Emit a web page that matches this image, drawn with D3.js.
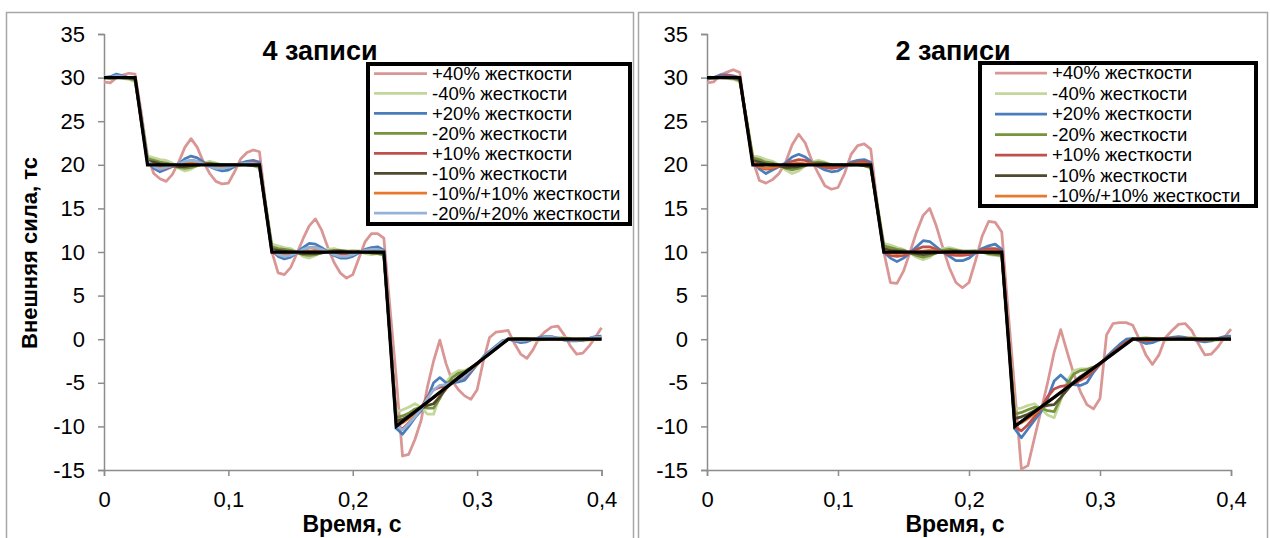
<!DOCTYPE html>
<html>
<head>
<meta charset="utf-8">
<script src="https://cdn.jsdelivr.net/npm/d3@7"></script>
<style>
  body { margin: 0; background: #fff; }
  text { font-family: "Liberation Sans", Arial, sans-serif; }
</style>
</head>
<body>
<div class="canvas"></div>
<script>
// sample times, s
const time = [0, 0.005, 0.01, 0.015, 0.02, 0.025, 0.03, 0.035, 0.04, 0.045,
  0.05, 0.055, 0.06, 0.065, 0.07, 0.075, 0.08, 0.085, 0.09, 0.095,
  0.1, 0.105, 0.11, 0.115, 0.12, 0.125, 0.13, 0.135, 0.14, 0.145,
  0.15, 0.155, 0.16, 0.165, 0.17, 0.175, 0.18, 0.185, 0.19, 0.195,
  0.2, 0.205, 0.21, 0.215, 0.22, 0.225, 0.23, 0.235, 0.24, 0.245,
  0.25, 0.255, 0.26, 0.265, 0.27, 0.275, 0.28, 0.285, 0.29, 0.295,
  0.3, 0.305, 0.31, 0.315, 0.32, 0.325, 0.33, 0.335, 0.34, 0.345,
  0.35, 0.355, 0.36, 0.365, 0.37, 0.375, 0.38, 0.385, 0.39, 0.395,
  0.4];

// target force (black line)
const refTime = [0, 0.025, 0.035, 0.125, 0.135, 0.225, 0.235, 0.325, 0.4];
const refForce = [30, 30, 20, 20, 10, 10, -10, 0, 0];

const seriesNames = ['+40% жесткости', '-40% жесткости', '+20% жесткости', '-20% жесткости',
  '+10% жесткости', '-10% жесткости', '-10%/+10% жесткости', '-20%/+20% жесткости'];
const seriesColors = ['#d99694', '#c3d69b', '#4a7ebb', '#77933c', '#c0504d', '#4f4a2e', '#e8782e', '#95b3d7'];

const yTicks = [-15, -10, -5, 0, 5, 10, 15, 20, 25, 30, 35];
const xTicks = [0, 0.1, 0.2, 0.3, 0.4];
const xTickLabels = ['0', '0,1', '0,2', '0,3', '0,4'];
const panelTitles = ['4 записи', '2 записи'];

// ---- 4 записи ----
const left_p40 = [29.5, 29.4, 30.0, 30.3, 30.5, 30.4, 26.0, 21.0, 19.0, 18.4,
  18.1, 18.9, 20.3, 22.0, 23.0, 22.0, 20.3, 19.0, 18.1, 17.8,
  17.9, 19.2, 20.7, 21.4, 21.7, 21.5, 15.5, 10.0, 7.6, 7.4,
  8.2, 9.8, 11.5, 13.0, 13.8, 12.5, 10.5, 8.8, 7.6, 7.0,
  7.4, 9.3, 11.2, 12.1, 12.1, 11.6, 3.5, -4.5, -13.4, -13.2,
  -11.5, -9.3, -5.5, -2.5, -0.1, -2.8, -4.8, -5.8, -6.5, -6.9,
  -5.8, -2.5, 0.2, 0.8, 0.9, 1.0, -0.5, -1.7, -2.2, -1.2,
  0.2, 0.9, 1.4, 1.5, 0.5, -0.8, -1.7, -1.6, -0.8, 0.2,
  1.3];
const left_m40 = [30.1, 30.0, 30.1, 29.9, 29.8, 29.5, 25.5, 21.0, 20.8, 20.6,
  20.5, 20.2, 19.6, 19.3, 19.5, 19.9, 20.2, 20.4, 20.2, 20.0,
  19.9, 20.0, 20.1, 20.0, 19.9, 19.6, 15.5, 10.9, 10.7, 10.5,
  10.4, 10.0, 9.5, 9.3, 9.6, 10.0, 10.3, 10.4, 10.2, 10.1,
  10.2, 10.1, 9.8, 9.7, 9.8, 9.6, 0.5, -8.3, -8.1, -7.8,
  -7.4, -7.8, -8.6, -8.6, -6.5, -5.0, -4.0, -3.6, -3.6, -3.2,
  -2.8, -2.1, -1.4, -0.9, -0.4, 0.0, 0.1, 0.1, 0.0, -0.1,
  -0.1, 0.0, 0.1, 0.2, 0.2, 0.1, -0.1, -0.2, -0.1, 0.0,
  0.1];
const left_p20 = [30.0, 30.1, 30.4, 30.2, 30.0, 30.0, 25.2, 20.5, 19.6, 19.2,
  19.5, 19.8, 20.1, 20.7, 21.0, 20.8, 20.3, 19.8, 19.5, 19.3,
  19.4, 19.8, 20.2, 20.4, 20.5, 20.3, 15.0, 10.2, 9.5, 9.2,
  9.4, 9.9, 10.5, 11.0, 10.9, 10.5, 10.0, 9.6, 9.3, 9.3,
  9.5, 9.9, 10.3, 10.5, 10.6, 10.2, 0.5, -10.2, -10.9, -10.0,
  -9.0, -8.2, -6.8, -5.0, -4.4, -5.0, -5.0, -4.9, -4.7, -3.8,
  -2.9, -2.0, -1.4, -0.8, -0.2, 0.0, -0.2, -0.4, -0.3, 0.0,
  0.2, 0.3, 0.3, 0.1, -0.1, -0.2, -0.2, -0.1, 0.1, 0.3,
  0.35];
const left_m20 = [30.0, 29.9, 30.0, 30.0, 29.9, 29.7, 25.3, 20.7, 20.5, 20.3,
  20.2, 20.0, 19.7, 19.6, 19.7, 19.9, 20.1, 20.2, 20.1, 20.0,
  20.0, 20.0, 20.1, 20.0, 19.9, 19.8, 15.3, 10.6, 10.4, 10.3,
  10.2, 10.0, 9.7, 9.6, 9.7, 9.9, 10.1, 10.2, 10.2, 10.1,
  10.0, 10.1, 10.0, 9.9, 9.8, 9.7, 0.3, -9.0, -8.8, -8.5,
  -8.0, -7.8, -7.9, -7.9, -6.8, -5.4, -4.4, -3.9, -3.7, -3.3,
  -2.8, -2.2, -1.6, -1.0, -0.5, 0.0, 0.1, 0.1, 0.1, 0.0,
  0.0, 0.0, 0.1, 0.1, 0.1, 0.0, -0.1, -0.1, 0.0, 0.0,
  0.1];
const left_p10 = [30.0, 30.0, 30.1, 30.1, 30.0, 30.0, 25.0, 20.2, 19.8, 19.5,
  19.6, 19.8, 20.0, 20.3, 20.5, 20.4, 20.2, 19.9, 19.7, 19.7,
  19.7, 19.9, 20.1, 20.2, 20.3, 20.1, 15.0, 10.0, 9.7, 9.6,
  9.7, 9.9, 10.2, 10.5, 10.5, 10.3, 10.0, 9.8, 9.7, 9.7,
  9.8, 10.0, 10.2, 10.3, 10.3, 10.1, 0.2, -10.0, -10.3, -9.6,
  -8.9, -7.9, -6.6, -5.8, -5.5, -5.4, -5.0, -4.6, -4.3, -3.6,
  -2.9, -2.2, -1.6, -1.0, -0.4, 0.0, -0.1, -0.2, -0.1, 0.0,
  0.1, 0.1, 0.1, 0.0, 0.0, -0.1, -0.1, 0.0, 0.0, 0.1,
  0.1];
const left_m10 = [30.0, 30.0, 30.0, 30.0, 30.0, 29.9, 25.1, 20.4, 20.3, 20.1,
  20.0, 19.9, 19.8, 19.8, 19.9, 20.0, 20.1, 20.1, 20.0, 20.0,
  20.0, 20.0, 20.0, 20.0, 19.9, 19.9, 15.1, 10.3, 10.2, 10.1,
  10.0, 9.9, 9.8, 9.8, 9.8, 9.9, 10.0, 10.1, 10.1, 10.0,
  10.0, 10.0, 10.0, 9.9, 9.9, 9.8, 0.2, -9.4, -9.2, -8.8,
  -8.3, -7.9, -7.6, -7.4, -6.6, -5.7, -4.9, -4.3, -3.8, -3.3,
  -2.8, -2.2, -1.6, -1.1, -0.5, 0.0, 0.0, 0.0, 0.0, 0.0,
  0.0, 0.0, 0.0, 0.0, 0.0, 0.0, 0.0, 0.0, 0.0, 0.0,
  0.0];
const left_m10p10 = [30.0, 30.0, 30.0, 30.0, 30.0, 30.0, 25.0, 20.3, 20.0, 19.8,
  19.8, 19.9, 20.0, 20.1, 20.2, 20.1, 20.1, 20.0, 19.9, 19.9,
  19.9, 20.0, 20.0, 20.1, 20.1, 20.0, 15.0, 10.1, 9.9, 9.8,
  9.9, 9.9, 10.0, 10.1, 10.2, 10.1, 10.0, 10.0, 9.9, 9.9,
  9.9, 10.0, 10.1, 10.1, 10.1, 10.0, 0.2, -9.7, -9.6, -9.1,
  -8.5, -7.9, -7.2, -6.7, -6.1, -5.6, -5.0, -4.5, -4.0, -3.4,
  -2.8, -2.2, -1.7, -1.1, -0.5, 0.0, 0.0, -0.1, 0.0, 0.0,
  0.0, 0.1, 0.0, 0.0, 0.0, 0.0, 0.0, 0.0, 0.0, 0.0,
  0.0];
const left_m20p20 = [30.0, 30.0, 30.2, 30.1, 30.0, 30.0, 25.1, 20.4, 19.8, 19.5,
  19.7, 19.9, 20.1, 20.4, 20.5, 20.4, 20.1, 19.8, 19.6, 19.6,
  19.7, 19.9, 20.1, 20.2, 20.2, 20.0, 15.0, 10.2, 9.7, 9.5,
  9.6, 9.9, 10.3, 10.5, 10.5, 10.3, 10.0, 9.7, 9.5, 9.5,
  9.7, 10.0, 10.2, 10.3, 10.3, 10.1, 0.3, -9.9, -10.4, -9.7,
  -8.9, -8.0, -6.8, -5.8, -5.3, -5.2, -5.0, -4.6, -4.2, -3.5,
  -2.8, -2.1, -1.5, -0.9, -0.3, 0.0, -0.1, -0.2, -0.1, 0.0,
  0.1, 0.2, 0.2, 0.1, 0.0, -0.1, -0.1, 0.0, 0.1, 0.2,
  0.2];

// ---- 2 записи ----
const right_p40 = [29.4, 29.5, 30.3, 30.6, 30.9, 30.6, 25.0, 20.5, 18.2, 17.9,
  18.3, 19.0, 20.3, 22.3, 23.5, 22.5, 20.5, 19.0, 17.6, 17.2,
  17.4, 19.0, 21.2, 22.2, 22.4, 21.8, 15.5, 10.0, 6.5, 6.4,
  7.8, 10.0, 12.3, 14.2, 15.0, 13.0, 10.5, 8.2, 6.5, 5.9,
  6.5, 9.0, 11.8, 13.5, 13.4, 12.3, 3.0, -6.0, -14.9, -14.5,
  -11.3, -8.2, -5.0, -1.5, 1.1, -1.5, -4.0, -6.0, -7.5, -8.0,
  -6.8, 0.5, 1.8, 1.9, 1.9, 1.6, 0.0, -1.8, -2.9, -1.8,
  0.2, 1.0, 1.7, 1.8, 1.0, -0.5, -1.8, -1.7, -0.9, 0.2,
  1.15];
const right_m40 = [30.1, 30.0, 30.0, 29.9, 29.8, 29.5, 25.5, 21.0, 20.9, 20.6,
  20.4, 20.0, 19.4, 19.0, 19.3, 19.9, 20.3, 20.5, 20.3, 20.0,
  19.8, 19.9, 20.1, 20.2, 19.9, 19.6, 15.5, 11.0, 10.8, 10.5,
  10.3, 9.9, 9.4, 9.1, 9.4, 10.0, 10.4, 10.5, 10.3, 10.1,
  10.1, 10.2, 10.0, 9.7, 9.6, 9.5, 0.5, -8.0, -7.9, -7.6,
  -7.4, -8.0, -8.7, -9.0, -7.0, -4.8, -3.6, -3.4, -3.4, -3.2,
  -2.8, -2.1, -1.5, -0.9, -0.4, 0.0, 0.1, 0.2, 0.1, 0.0,
  -0.1, 0.0, 0.1, 0.2, 0.2, 0.1, -0.1, -0.2, -0.1, 0.0,
  0.1];
const right_p20 = [29.8, 30.0, 30.3, 30.3, 30.2, 30.0, 25.2, 20.5, 19.5, 19.0,
  19.4, 19.8, 20.2, 20.9, 21.2, 20.9, 20.3, 19.8, 19.4, 19.2,
  19.3, 19.8, 20.3, 20.5, 20.6, 20.3, 15.0, 10.0, 9.3, 8.9,
  9.3, 9.9, 10.6, 11.3, 11.2, 10.6, 10.0, 9.5, 9.0, 9.0,
  9.3, 9.9, 10.4, 10.7, 10.9, 10.3, 0.5, -10.3, -11.3, -10.3,
  -9.3, -8.3, -6.8, -4.8, -4.1, -4.8, -5.2, -5.3, -5.0, -3.8,
  -2.9, -2.0, -1.3, -0.6, 0.0, 0.1, -0.2, -0.5, -0.4, -0.1,
  0.1, 0.2, 0.3, 0.2, 0.0, -0.2, -0.3, -0.2, 0.1, 0.3,
  0.35];
const right_m20 = [30.0, 29.9, 30.0, 30.0, 29.9, 29.7, 25.3, 20.8, 20.6, 20.3,
  20.2, 19.9, 19.6, 19.4, 19.6, 19.9, 20.2, 20.3, 20.2, 20.0,
  19.9, 20.0, 20.1, 20.1, 19.9, 19.7, 15.3, 10.7, 10.5, 10.3,
  10.2, 9.9, 9.6, 9.4, 9.6, 9.9, 10.2, 10.3, 10.2, 10.1,
  10.1, 10.1, 10.0, 9.8, 9.7, 9.6, 0.4, -8.6, -8.4, -8.1,
  -7.8, -7.9, -8.2, -8.3, -6.8, -5.2, -4.0, -3.6, -3.5, -3.2,
  -2.8, -2.2, -1.6, -1.0, -0.5, 0.0, 0.1, 0.1, 0.1, 0.0,
  0.0, 0.0, 0.1, 0.1, 0.1, 0.0, -0.1, -0.1, 0.0, 0.0,
  0.1];
const right_p10 = [30.0, 30.0, 30.1, 30.2, 30.1, 30.0, 25.0, 20.2, 19.7, 19.5,
  19.6, 19.8, 20.1, 20.4, 20.6, 20.5, 20.2, 19.9, 19.7, 19.6,
  19.7, 19.9, 20.1, 20.3, 20.4, 20.1, 15.0, 10.0, 9.6, 9.5,
  9.6, 9.9, 10.3, 10.6, 10.6, 10.3, 10.0, 9.7, 9.6, 9.6,
  9.7, 10.0, 10.2, 10.4, 10.4, 10.1, 0.2, -10.1, -10.5, -9.8,
  -8.9, -7.9, -6.6, -5.7, -5.4, -5.3, -5.1, -4.7, -4.3, -3.6,
  -2.9, -2.2, -1.5, -0.9, -0.3, 0.0, -0.1, -0.2, -0.1, 0.0,
  0.1, 0.1, 0.1, 0.0, 0.0, -0.1, -0.1, 0.0, 0.0, 0.1,
  0.1];
const right_m10 = [30.0, 30.0, 30.0, 30.0, 30.0, 29.9, 25.1, 20.5, 20.3, 20.1,
  20.0, 19.9, 19.7, 19.7, 19.8, 20.0, 20.1, 20.1, 20.1, 20.0,
  20.0, 20.0, 20.0, 20.0, 19.9, 19.8, 15.1, 10.4, 10.2, 10.1,
  10.0, 9.9, 9.8, 9.7, 9.8, 9.9, 10.0, 10.1, 10.1, 10.0,
  10.0, 10.0, 10.0, 9.9, 9.9, 9.8, 0.2, -9.1, -8.9, -8.6,
  -8.2, -7.8, -7.6, -7.5, -6.7, -5.8, -4.9, -4.3, -3.8, -3.3,
  -2.8, -2.2, -1.6, -1.1, -0.5, 0.0, 0.0, 0.0, 0.0, 0.0,
  0.0, 0.0, 0.0, 0.0, 0.0, 0.0, 0.0, 0.0, 0.0, 0.0,
  0.0];
const right_m10p10 = [30.0, 30.0, 30.0, 30.0, 30.0, 30.0, 25.0, 20.3, 19.8, 19.6,
  19.7, 19.9, 20.0, 20.1, 20.2, 20.1, 20.1, 20.0, 19.9, 19.9,
  19.9, 20.0, 20.0, 20.1, 20.1, 20.0, 15.0, 10.1, 9.9, 9.8,
  9.9, 9.9, 10.0, 10.1, 10.2, 10.1, 10.0, 10.0, 9.9, 9.9,
  9.9, 10.0, 10.1, 10.1, 10.1, 10.0, 0.2, -9.7, -9.6, -9.1,
  -8.5, -7.9, -7.2, -6.7, -6.1, -5.6, -5.0, -4.5, -4.0, -3.4,
  -2.8, -2.2, -1.7, -1.1, -0.5, 0.0, 0.0, -0.1, 0.0, 0.0,
  0.0, 0.1, 0.0, 0.0, 0.0, 0.0, 0.0, 0.0, 0.0, 0.0,
  0.0];

const leftSeries = [left_p40, left_m40, left_p20, left_m20, left_p10, left_m10, left_m10p10, left_m20p20];
const rightSeries = [right_p40, right_m40, right_p20, right_m20, right_p10, right_m10, right_m10p10];

const svg = d3.select('.canvas')
  .append('svg')
  .attr('width', 1270)
  .attr('height', 538);

const axisColor = '#8c8c8c';

function drawPanel(p) {
  // outer chart frame
  svg.append('rect')
    .attr('x', p.frame[0]).attr('y', p.frame[1])
    .attr('width', p.frame[2]).attr('height', p.frame[3])
    .attr('fill', '#fff').attr('stroke', '#a6a6a6').attr('stroke-width', 1.5);

  const x = d3.scaleLinear().domain([0, 0.4]).range([p.x0, p.x1]);
  const y = d3.scaleLinear().domain([-15, 35]).range([470, 34]);

  const yAxis = svg.append('g')
    .attr('transform', `translate(${p.x0},0)`)
    .call(d3.axisLeft(y).tickValues(yTicks).tickSize(6).tickPadding(13).tickFormat(d => String(d)));
  const xAxis = svg.append('g')
    .attr('transform', `translate(0,${y(-15)})`)
    .call(d3.axisBottom(x).tickValues(xTicks).tickSize(6).tickPadding(15)
      .tickFormat((d, i) => xTickLabels[i]));

  [xAxis, yAxis].forEach(a => {
    a.select('.domain').attr('stroke', axisColor).attr('stroke-width', 1.5);
    a.selectAll('.tick line').attr('stroke', axisColor).attr('stroke-width', 1.5);
    a.selectAll('.tick text').attr('fill', '#000').style('font-size', '22px')
      .style('font-family', '"Liberation Sans", Arial, sans-serif');
  });

  const line = d3.line()
    .x((d, i) => x(time[i]))
    .y(d => y(d));

  p.series.forEach((s, k) => {
    svg.append('path')
      .datum(s)
      .attr('d', line)
      .attr('fill', 'none')
      .attr('stroke', seriesColors[k])
      .attr('stroke-width', 2.75)
      .attr('stroke-linejoin', 'round');
  });

  const refLine = d3.line()
    .x((d, i) => x(refTime[i]))
    .y(d => y(d));
  svg.append('path')
    .datum(refForce)
    .attr('d', refLine)
    .attr('fill', 'none')
    .attr('stroke', '#000')
    .attr('stroke-width', 3.25);

  // title
  svg.append('text')
    .attr('x', p.titleX).attr('y', 60)
    .attr('text-anchor', 'middle')
    .style('font-size', '27px').style('font-weight', 'bold')
    .text(p.title);

  // axis titles
  svg.append('text')
    .attr('x', p.xTitleX).attr('y', 532)
    .attr('text-anchor', 'middle')
    .style('font-size', '23px').style('font-weight', 'bold')
    .text('Время, с');
  if (p.yTitle) {
    svg.append('text')
      .attr('transform', 'translate(37,253) rotate(-90)')
      .attr('text-anchor', 'middle')
      .style('font-size', '22px').style('font-weight', 'bold')
      .text('Внешняя сила, тс');
  }

  // legend
  const L = p.legend;
  svg.append('rect')
    .attr('x', L.x).attr('y', L.y).attr('width', L.w).attr('height', L.h)
    .attr('fill', '#fff').attr('stroke', '#000').attr('stroke-width', 4);
  p.series.forEach((s, k) => {
    const cy = L.row0 + k * L.step;
    svg.append('line')
      .attr('x1', L.lx1).attr('x2', L.lx2).attr('y1', cy).attr('y2', cy)
      .attr('stroke', seriesColors[k]).attr('stroke-width', 2.75);
    svg.append('text')
      .attr('x', L.tx).attr('y', cy)
      .attr('dy', '0.35em')
      .style('font-size', '18.5px')
      .text(seriesNames[k]);
  });
}

drawPanel({
  frame: [6.5, 12.5, 627, 540],
  x0: 104, x1: 601.5,
  title: panelTitles[0], titleX: 320,
  xTitleX: 352, yTitle: true,
  series: leftSeries,
  legend: { x: 368, y: 64, w: 262, h: 160, lx1: 374, lx2: 427, tx: 432, row0: 73.5, step: 19.95 }
});

drawPanel({
  frame: [638.5, 12.5, 629, 540],
  x0: 707, x1: 1231,
  title: panelTitles[1], titleX: 953,
  xTitleX: 955, yTitle: false,
  series: rightSeries,
  legend: { x: 980, y: 63, w: 276, h: 143, lx1: 995, lx2: 1047, tx: 1052, row0: 73, step: 20.5 }
});
</script>
</body>
</html>
